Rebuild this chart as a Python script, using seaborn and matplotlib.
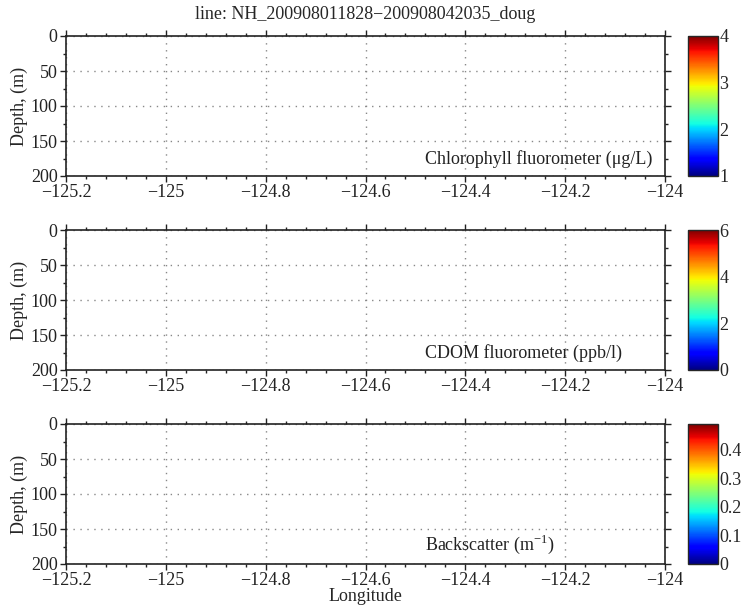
import numpy as np
import pandas as pd
import matplotlib
matplotlib.use("Agg")
import matplotlib.pyplot as plt
import seaborn as sns
from matplotlib.ticker import MultipleLocator

title = "line: NH_200908011828\u2212200908042035_doug"
labels = ["Chlorophyll fluorometer (\u03bcg/L)", "CDOM fluorometer (ppb/l)", "Backscatter (m$^{-1}$)"]
cbar_min = [1, 0, 0]
cbar_max = [4, 6, 0.49]
cbar_ticks = [[1, 2, 3, 4], [0, 2, 4, 6], [0, 0.1, 0.2, 0.3, 0.4]]
lon_ticks = [-125.2, -125, -124.8, -124.6, -124.4, -124.2, -124]
depth_ticks = [0, 50, 100, 150, 200]

# no data in this section, panels stay empty
empty = pd.DataFrame({"lon": [], "depth": []})

sns.set_theme(style="ticks")
plt.rcParams["font.family"] = ["Liberation Serif", "DejaVu Serif"]
plt.rcParams["mathtext.fontset"] = "custom"
plt.rcParams["mathtext.rm"] = "Liberation Serif"
plt.rcParams["axes.unicode_minus"] = True

fig = plt.figure(figsize=(7.5, 6.14), dpi=100)
W, H = 750, 614
ax_tops = [36, 230, 424]
ax_h = 140
fs = 13

for i in range(3):
    ax = fig.add_axes([66 / W, 1 - (ax_tops[i] + ax_h) / H, 599 / W, ax_h / H])
    cax = fig.add_axes([688 / W, 1 - (ax_tops[i] + ax_h) / H, 30 / W, ax_h / H])
    sns.scatterplot(data=empty, x="lon", y="depth", ax=ax)
    ax.set_xlim(-125.2, -124)
    ax.set_ylim(200, 0)
    ax.set_xticks(lon_ticks)
    ax.set_xticklabels([f"{t:g}".replace("-", "\u2212") for t in lon_ticks])
    ax.set_yticks(depth_ticks)
    ax.xaxis.set_minor_locator(MultipleLocator(0.04))
    ax.yaxis.set_minor_locator(MultipleLocator(25))
    ax.tick_params(which="both", direction="out", top=True, right=True,
                   labelsize=fs, colors="#222222", width=1)
    ax.tick_params(which="major", length=4, pad=2)
    ax.tick_params(which="minor", length=2.5)
    ax.grid(True, which="major", linestyle=(0, (1, 4)), color="#888888", linewidth=1)
    for s in ax.spines.values():
        s.set_color("#222222")
        s.set_linewidth(1.2)
    ax.set_ylabel("Depth, (m)", fontsize=fs, labelpad=2)
    ax.set_xlabel("Longitude" if i == 2 else "", fontsize=fs, labelpad=-1)
    ax.text(0.6, 0.06, labels[i], transform=ax.transAxes, fontsize=fs,
            ha="left", va="bottom", color="#222222")
    if i == 0:
        ax.set_title(title, fontsize=fs, pad=12)

    sm = plt.cm.ScalarMappable(cmap="jet", norm=plt.Normalize(cbar_min[i], cbar_max[i]))
    cb = fig.colorbar(sm, cax=cax, ticks=cbar_ticks[i])
    cb.ax.tick_params(labelsize=fs, length=0, pad=1)
    cb.ax.set_yticklabels([f"{t:g}" for t in cbar_ticks[i]])
    cb.outline.set_linewidth(1)

fig.savefig("out.png", dpi=100)
